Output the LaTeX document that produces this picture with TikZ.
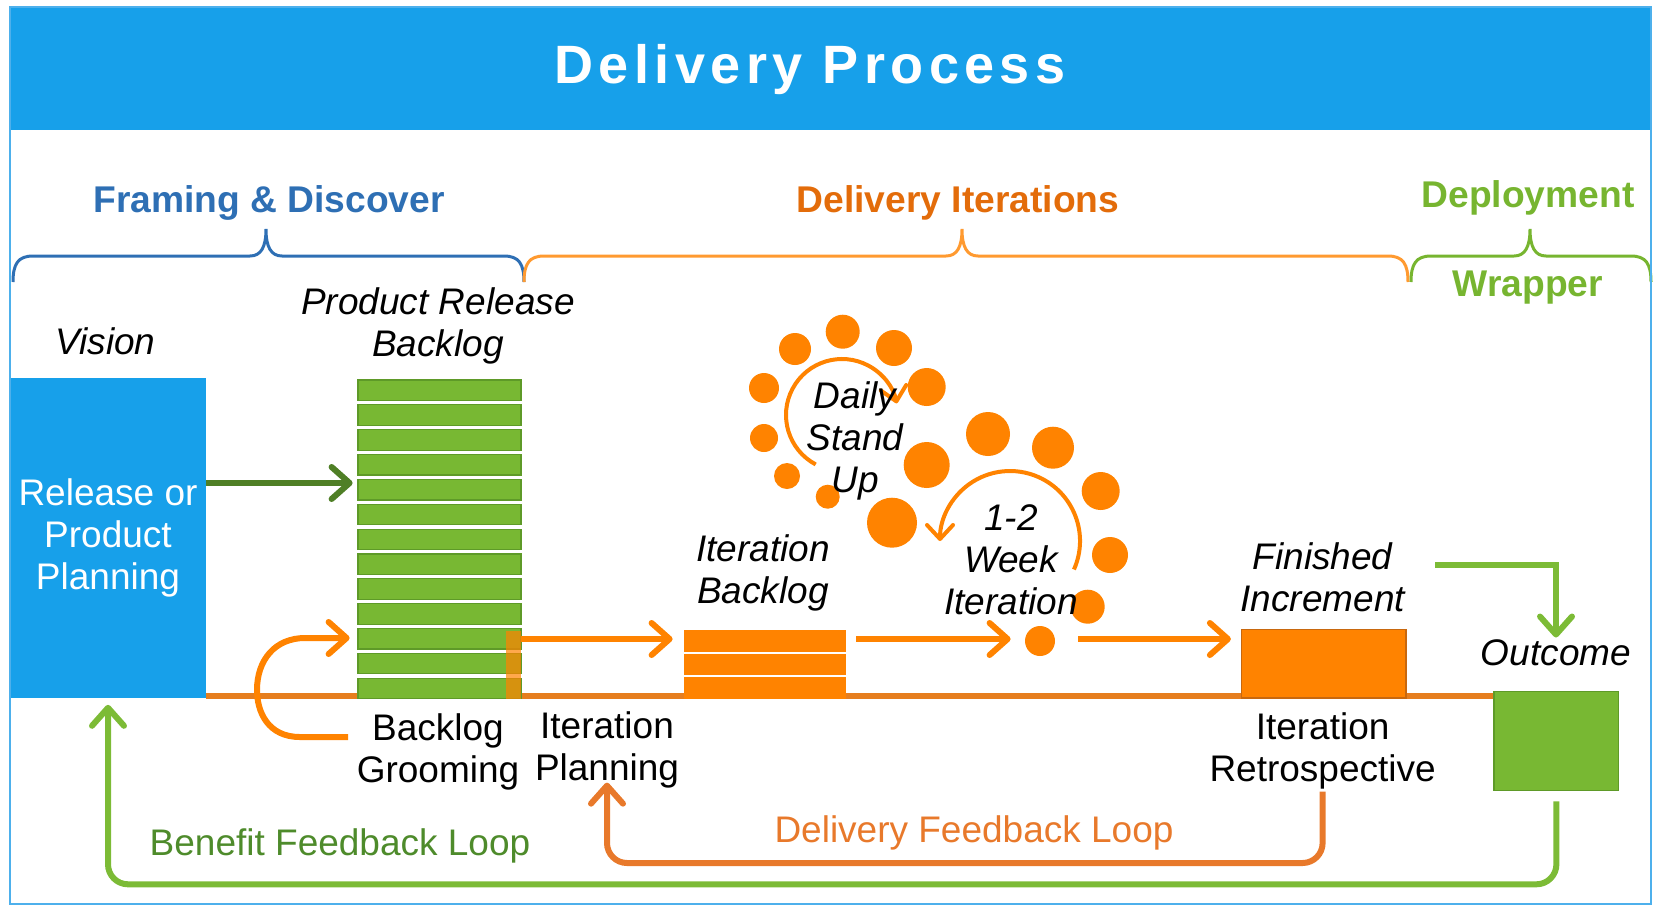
\documentclass[tikz,border=0pt]{standalone}
\usepackage{fontspec}
\setmainfont{Liberation Sans}
\newfontfamily\titlefont[LetterSpace=10]{Liberation Sans}
\usetikzlibrary{arrows.meta, calc, positioning, backgrounds}
\definecolor{hdrblue}{HTML}{17A0EA}
\definecolor{framecol}{HTML}{4DB0EC}
\definecolor{framblue}{HTML}{2E6FB4}
\definecolor{iterorange}{HTML}{E36C0A}
\definecolor{brorange}{HTML}{FF9A30}
\definecolor{deplgreen}{HTML}{77B530}
\definecolor{boxorange}{HTML}{FF8300}
\definecolor{lineorange}{HTML}{E67E1E}
\definecolor{finedge}{HTML}{C8680E}
\definecolor{boxgreen}{HTML}{78B833}
\definecolor{edgegreen}{HTML}{5E9A28}
\definecolor{darkgreen}{HTML}{4F7F26}
\definecolor{loopgreen}{HTML}{7CBB36}
\definecolor{loopgreentext}{HTML}{4E8B2B}
\definecolor{looporange}{HTML}{E8792B}
\newcommand\bodysize{\fontsize{18.5}{21}\selectfont}
\newcommand\catsize{\fontsize{18.6}{21}\selectfont}

\begin{document}
\begin{tikzpicture}[x=0.5pt, y=-0.5pt,
  txt/.style={font=\bodysize, inner sep=1pt, align=center},
  ittxt/.style={txt, font=\bodysize\itshape},
  cat/.style={font=\catsize\bfseries, inner sep=1pt},
  bracket/.style={line width=1.5pt},
  flow/.style={draw=boxorange, line width=3pt, -{Straight Barb[length=9pt,width=16pt,round]}},
  spin/.style={draw=boxorange, line width=2pt, -{Straight Barb[length=7pt,width=13pt,round]}},
  fbloop/.style={line width=3pt, rounded corners=10pt, -{Straight Barb[length=9pt,width=16pt,round]}},
  gbar/.style={fill=boxgreen, draw=edgegreen, line width=0.6pt},
  obar/.style={fill=boxorange}]
\useasboundingbox (0,0) rectangle (1654,906);
\fill[hdrblue] (10,7) rectangle (1651,130);
\node[white, font=\titlefont\fontsize{27}{30}\selectfont\bfseries] (title) at (810,70) {Delivery Process};

\foreach \a/\m/\b/\c in {13/266/524/framblue, 524/962/1408/brorange, 1411/1530/1651/deplgreen}
  \draw[bracket, \c] (\a,282) .. controls (\a,264) and (\a+5,256) .. (\a+20,256) -- (\m-16,256)
    .. controls (\m-5,256) and (\m,247) .. (\m,229) .. controls (\m,247) and (\m+5,256) .. (\m+16,256)
    -- (\b-20,256) .. controls (\b-5,256) and (\b,264) .. (\b,282);
\node[cat, framblue] (framing) at (269,203) {Framing \& Discover};
\node[cat, iterorange] (iters) at (958,203) {Delivery Iterations};
\node[cat, deplgreen] (deploy) at (1528,198) {Deployment};
\node[cat, deplgreen] (wrapper) at (1528,288) {Wrapper};

\node[ittxt] (vision) at (105.5,341) {Vision};
\node[fill=hdrblue, text=white, font=\bodysize, align=center, inner sep=0, minimum width=97.6pt, minimum height=160.4pt] (plan) at (108,538) {Release or\\Product\\Planning};

\foreach \i in {0,...,12}
  \draw[gbar] (358,{380+24.85*\i}) rectangle (521,{400.5+24.85*\i});
\node[inner sep=0, minimum width=81.5pt, minimum height=159.5pt] (prb) at (439.5,539.5) {};
\fill[boxorange, opacity=0.7] (506,631) rectangle (521,699);
\node[ittxt] (prblabel) at (438,326) {Product Release\\Backlog};

\foreach \i in {0,1,2}
  \fill[obar] (684,{630+23.5*\i}) rectangle (846,{651.5+23.5*\i});
\node[inner sep=0, minimum width=81pt, minimum height=34.25pt] (itb) at (765,664.25) {};
\node[ittxt] (itblabel) at (763,573) {Iteration\\Backlog};

\foreach \x/\y/\r in {842.7/331.7/17, 795/349/16, 894/348/18, 764/388/15, 926.7/387/19, 764/438/14,
    926.7/465/23, 787/476/13, 827.7/496.7/12, 892/522.7/25, 988/434/22, 1053/447.7/21,
    1100.7/491/19, 1110/555/18, 1087.7/606.7/17}
  \fill[boxorange] (\x,\y) circle[radius={\r*0.5pt}];
\draw[spin] (842,415) ++(242:28pt) arc[start angle=242, end angle=12, radius=28pt];
\draw[spin] (1010,541) ++(-24:35pt) arc[start angle=-24, end angle=180, radius=35pt];
\node[ittxt] (daily) at (855,441) {Daily\\Stand\\Up};
\node[ittxt] (week) at (1011,560) {1-2\\Week\\Iteration};

\node[circle, fill=boxorange, inner sep=0, minimum size=15pt] (tick) at (1040,641) {};
\node[fill=boxorange, draw=finedge, line width=0.6pt, inner sep=0, minimum width=82.25pt, minimum height=34.15pt] (fin) at (1323.75,663.9) {};
\node[ittxt] (finlabel) at (1322.6,577) {Finished\\Increment};
\node[fill=boxgreen, draw=edgegreen, line width=0.6pt, inner sep=0, minimum width=62.35pt, minimum height=49.5pt] (outcome) at (1556.4,741.2) {};
\node[ittxt] (outlabel) at (1556,653) {Outcome};

\node[txt] (groom) at (438,752) {Backlog\\Grooming};
\node[txt] (itp) at (607,750) {Iteration\\Planning};
\node[txt] (retro) at (1322.6,751) {Iteration\\Retrospective};
\node[txt, text=looporange] (dfl) at (974,833) {Delivery Feedback Loop};
\node[txt, text=loopgreentext] (bfl) at (340,846) {Benefit Feedback Loop};

\begin{scope}[on background layer]
\draw[lineorange, line width=3pt] (plan.east |- 0,696) -- (outcome.west |- 0,696);
\end{scope}
\draw[flow, draw=darkgreen, shorten >=2.5pt] (plan.east |- 0,483) -- (prb.west |- 0,483);
\coordinate (gstart) at (348,737);
\draw[flow, shorten >=4pt] (gstart) -- (300,737) .. controls (268,737) and (257,712) .. (257,690)
  .. controls (257,660) and (275,638) .. (305,638) -- (prb.west |- 0,638);
\draw[flow, shorten >=5.5pt] (prb.east |- 0,639) -- (itb.west |- 0,639);
\draw[flow, shorten <=5pt, shorten >=7pt] (itb.east |- 0,639) -- (tick.west |- 0,639);
\draw[flow, shorten <=11.5pt, shorten >=5pt] (tick.east |- 0,639) -- (fin.west |- 0,639);
\coordinate (finout) at (1435,565);
\draw[flow, draw=loopgreen] (finout) -| (outlabel.north);
\draw[fbloop, draw=looporange, shorten >=-4pt] (retro.south) -- (retro.south |- 0,863) -| (itp.south);
\draw[fbloop, draw=loopgreen, shorten <=5pt, shorten >=3pt] (outcome.south) -- ++(0,93) -| (plan.south);

\draw[framecol, line width=1pt] (10,7) rectangle (1651,904);
\end{tikzpicture}
\end{document}
